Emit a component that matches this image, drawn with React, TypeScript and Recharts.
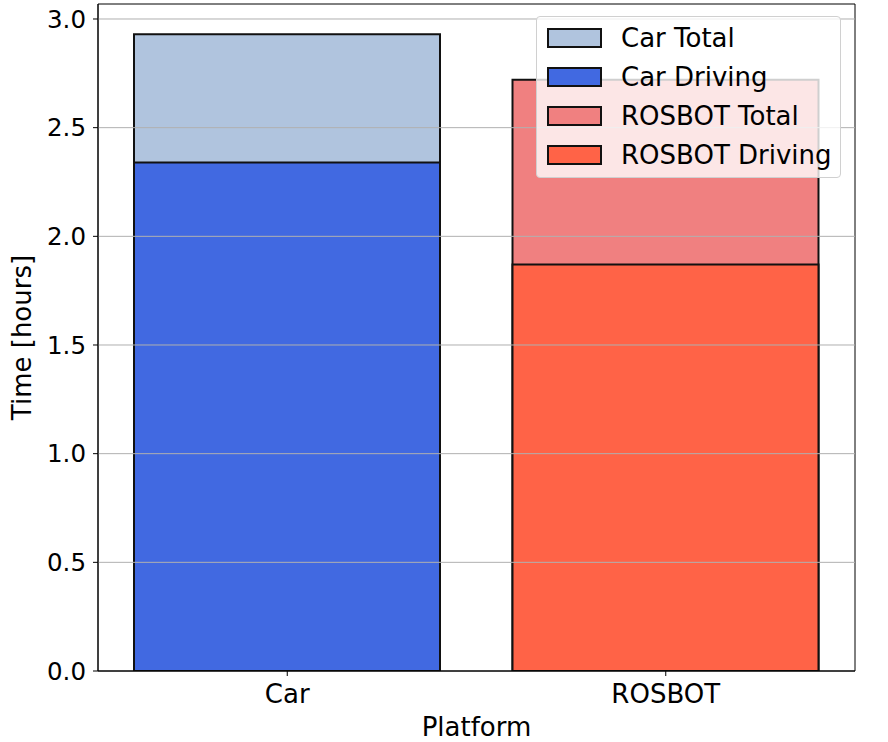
import { BarChart, Bar, XAxis, YAxis, Cell, ReferenceLine, ReferenceArea } from 'recharts';

const platforms = ['Car', 'ROSBOT'];
const totalHours = [2.93, 2.72];
const drivingHours = [2.34, 1.87];
const yTicks = [0, 0.5, 1.0, 1.5, 2.0, 2.5, 3.0];
const yMax = 3.069;

const totalColors = ['#B0C4DE', '#F08080'];
const drivingColors = ['#4169E1', '#FF6347'];
const legendNames = ['Car Total', 'Car Driving', 'ROSBOT Total', 'ROSBOT Driving'];
const legendColors = ['#B0C4DE', '#4169E1', '#F08080', '#FF6347'];

const data = platforms.map((p, i) => ({
  platform: p,
  total: totalHours[i],
  driving: drivingHours[i],
}));

const font = "'DejaVu Sans', sans-serif";

function YLabel(props: any) {
  const vb = props.viewBox || { x: 0, y: 0, width: 0, height: 0 };
  const cx = 31;
  const cy = vb.y + vb.height / 2;
  return (
    <text
      x={cx}
      y={cy}
      transform={`rotate(-90, ${cx}, ${cy})`}
      textAnchor="middle"
      fontSize={26}
      fontFamily={font}
      fill="#000"
    >
      Time [hours]
    </text>
  );
}

function XLabel(props: any) {
  const vb = props.viewBox || { x: 0, y: 0, width: 0, height: 0 };
  return (
    <text
      x={vb.x + vb.width / 2}
      y={736}
      textAnchor="middle"
      fontSize={26}
      fontFamily={font}
      fill="#000"
    >
      Platform
    </text>
  );
}

function LegendBox() {
  return (
    <div
      style={{
        position: 'absolute',
        left: 536,
        top: 16,
        width: 305,
        height: 162,
        background: 'rgba(255,255,255,0.8)',
        border: '1px solid #d0d0d0',
        borderRadius: 4,
        boxSizing: 'border-box',
        fontFamily: font,
        fontSize: 26,
        pointerEvents: 'none',
      }}
    >
      {legendNames.map((name, i) => (
        <div
          key={name}
          style={{
            position: 'absolute',
            left: 10,
            top: 11 + i * 39,
            height: 20,
            display: 'flex',
            alignItems: 'center',
            whiteSpace: 'nowrap',
          }}
        >
          <div
            style={{
              width: 51,
              height: 16,
              background: legendColors[i],
              border: '2px solid #111',
            }}
          />
          <span style={{ marginLeft: 19, lineHeight: '20px' }}>{name}</span>
        </div>
      ))}
    </div>
  );
}

export default function App() {
  return (
    <div style={{ position: 'absolute', left: 0, top: 0, width: 888, height: 742, background: '#fff' }}>
      <BarChart
        width={888}
        height={742}
        data={data}
        margin={{ top: 4, right: 33, bottom: 0, left: 0 }}
      >
        <XAxis
          xAxisId="front"
          dataKey="platform"
          height={71}
          tickSize={5}
          tickMargin={9}
          tick={{ fill: '#000', fontSize: 26, fontFamily: font }}
          axisLine={{ stroke: '#000', strokeWidth: 1 }}
          tickLine={{ stroke: '#000' }}
          label={<XLabel />}
        />
        <XAxis
          xAxisId="back"
          dataKey="platform"
          orientation="top"
          height={0}
          tick={false}
          tickLine={false}
          axisLine={false}
        />
        <YAxis
          domain={[0, yMax]}
          ticks={yTicks}
          allowDataOverflow
          width={98}
          tickSize={5}
          tickMargin={7}
          tickFormatter={(v: number) => v.toFixed(1)}
          tick={{ fill: '#000', fontSize: 24.5, fontFamily: font }}
          axisLine={{ stroke: '#000', strokeWidth: 1 }}
          tickLine={{ stroke: '#000' }}
          label={<YLabel />}
        />
        <Bar
          dataKey="total"
          xAxisId="back"
          barSize={306}
          stroke="#111"
          strokeWidth={2}
          isAnimationActive={false}
        >
          {data.map((d, i) => (
            <Cell key={d.platform} fill={totalColors[i]} />
          ))}
        </Bar>
        <Bar
          dataKey="driving"
          xAxisId="front"
          barSize={306}
          stroke="#111"
          strokeWidth={2}
          isAnimationActive={false}
        >
          {data.map((d, i) => (
            <Cell key={d.platform} fill={drivingColors[i]} />
          ))}
        </Bar>
        {yTicks.slice(1).map((t) => (
          <ReferenceLine key={t} y={t} xAxisId="front" stroke="#b0b0b0" strokeWidth={1} />
        ))}
        <ReferenceArea
          xAxisId="front"
          y1={0}
          y2={yMax}
          fill="none"
          fillOpacity={0}
          stroke="#000"
          strokeWidth={1}
          ifOverflow="visible"
        />
      </BarChart>
      <LegendBox />
    </div>
  );
}
